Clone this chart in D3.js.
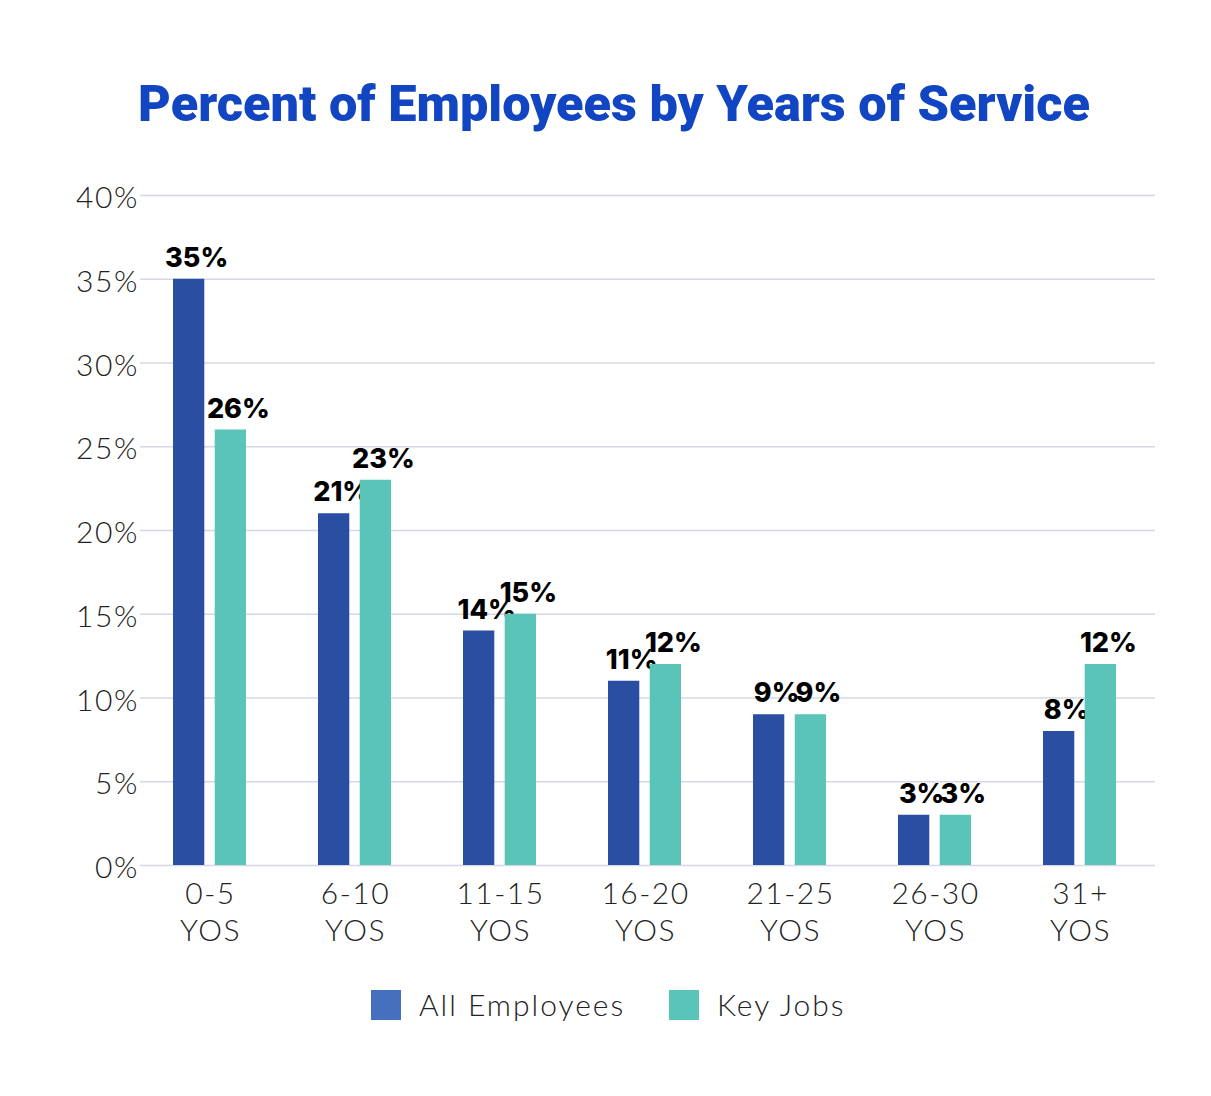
<!DOCTYPE html>
<html>
<head>
<meta charset="utf-8">
<script src="https://cdn.jsdelivr.net/npm/d3@7"></script>
<style>
  body { margin: 0; background: #fff; }
  svg { display: block; }
</style>
</head>
<body>
<svg id="chart"></svg>
<script>
// chart data
const categories = ["0-5 YOS", "6-10 YOS", "11-15 YOS", "16-20 YOS", "21-25 YOS", "26-30 YOS", "31+ YOS"];
const seriesNames = ["All Employees", "Key Jobs"];
const allEmployees = [35, 21, 14, 11, 9, 3, 8];
const keyJobs = [26, 23, 15, 12, 9, 3, 12];
const yTicks = [0, 5, 10, 15, 20, 25, 30, 35, 40];

const W = 1211, H = 1096;
const margin = { top: 195, right: 56, bottom: 231, left: 140 };
const width = W - margin.left - margin.right;
const height = H - margin.top - margin.bottom;

const barColors = ["#2a4ea2", "#5ac4b9"];
const legendColors = ["#4570bd", "#5ac4b9"];

const svg = d3.select("#chart").attr("width", W).attr("height", H);

// title, squeezed to the reference width
const title = svg.append("text")
  .attr("x", 614).attr("y", 121)
  .attr("text-anchor", "middle")
  .attr("fill", "#1245c2")
  .attr("font-family", "Roboto, sans-serif")
  .attr("font-weight", 900)
  .attr("font-size", 42)
  .text("Percent of Employees by Years of Service");
const tw = title.node().getComputedTextLength();
title.attr("font-size", 42 * 952 / tw);

const main = svg.append("g").attr("transform", `translate(${margin.left},${margin.top})`);

const x0 = d3.scaleBand().domain(categories).range([0, width]);
const x1 = d3.scaleBand().domain(seriesNames).range([33, 106]).paddingInner(0.25);
const y = d3.scaleLinear().domain([0, 40]).range([height, 0]);

// gridlines + y labels
const yAxis = d3.axisLeft(y).tickValues(yTicks).tickSize(-width).tickFormat(d => d + "%");
const ya = main.append("g").call(yAxis);
ya.select(".domain").remove();
ya.selectAll(".tick line").attr("stroke", "#d6d8e6").attr("stroke-width", 1.5);
ya.selectAll(".tick text")
  .attr("x", -1)
  .attr("dy", "0.42em")
  .attr("fill", "#222")
  .attr("font-family", "Lato, sans-serif")
  .attr("font-weight", 300)
  .attr("font-size", 30)
  .attr("letter-spacing", 1.6);

// x labels on two lines
const xAxis = d3.axisBottom(x0).tickSize(0).tickFormat("");
const xa = main.append("g").attr("transform", `translate(0,${height})`).call(xAxis);
xa.select(".domain").remove();
xa.selectAll(".tick").each(function (d) {
  const parts = d.split(" ");
  const t = d3.select(this).append("text")
    .attr("fill", "#222")
    .attr("text-anchor", "middle")
    .attr("font-family", "Lato, sans-serif")
    .attr("font-weight", 300)
    .attr("font-size", 30)
    .attr("letter-spacing", 1.5);
  t.append("tspan").attr("x", -2).attr("y", 39).text(parts[0]);
  t.append("tspan").attr("x", -2).attr("y", 76).text(parts[1]);
});

const rows = categories.map((c, i) => ({ cat: c, vals: [allEmployees[i], keyJobs[i]] }));

const groups = main.selectAll(".group")
  .data(rows)
  .join("g")
  .attr("class", "group")
  .attr("transform", d => `translate(${x0(d.cat)},0)`);

const bars = groups.selectAll("g.bar")
  .data(d => d.vals.map((v, j) => ({ v, s: seriesNames[j], j })))
  .join("g")
  .attr("class", "bar");

bars.append("rect")
  .attr("x", d => x1(d.s))
  .attr("width", x1.bandwidth())
  .attr("y", d => y(d.v))
  .attr("height", d => height - y(d.v))
  .attr("fill", d => barColors[d.j]);

bars.append("text")
  .attr("x", d => x1(d.s) + x1.bandwidth() / 2 + 8)
  .attr("y", d => y(d.v) - 12)
  .attr("text-anchor", "middle")
  .attr("fill", "#000")
  .attr("font-family", "Inter, sans-serif")
  .attr("font-weight", 800)
  .attr("font-size", 27)
  .text(d => d.v + "%");

// legend
const legendX = [371, 669];
const legend = svg.append("g").selectAll("g")
  .data(seriesNames)
  .join("g")
  .attr("transform", (d, i) => `translate(${legendX[i]},990)`);
legend.append("rect").attr("width", 30).attr("height", 30).attr("fill", (d, i) => legendColors[i]);
legend.append("text")
  .attr("x", 48).attr("y", 26)
  .attr("fill", "#222")
  .attr("font-family", "Lato, sans-serif")
  .attr("font-weight", 300)
  .attr("font-size", 30)
  .attr("letter-spacing", 2)
  .text(d => d);
</script>
</body>
</html>
